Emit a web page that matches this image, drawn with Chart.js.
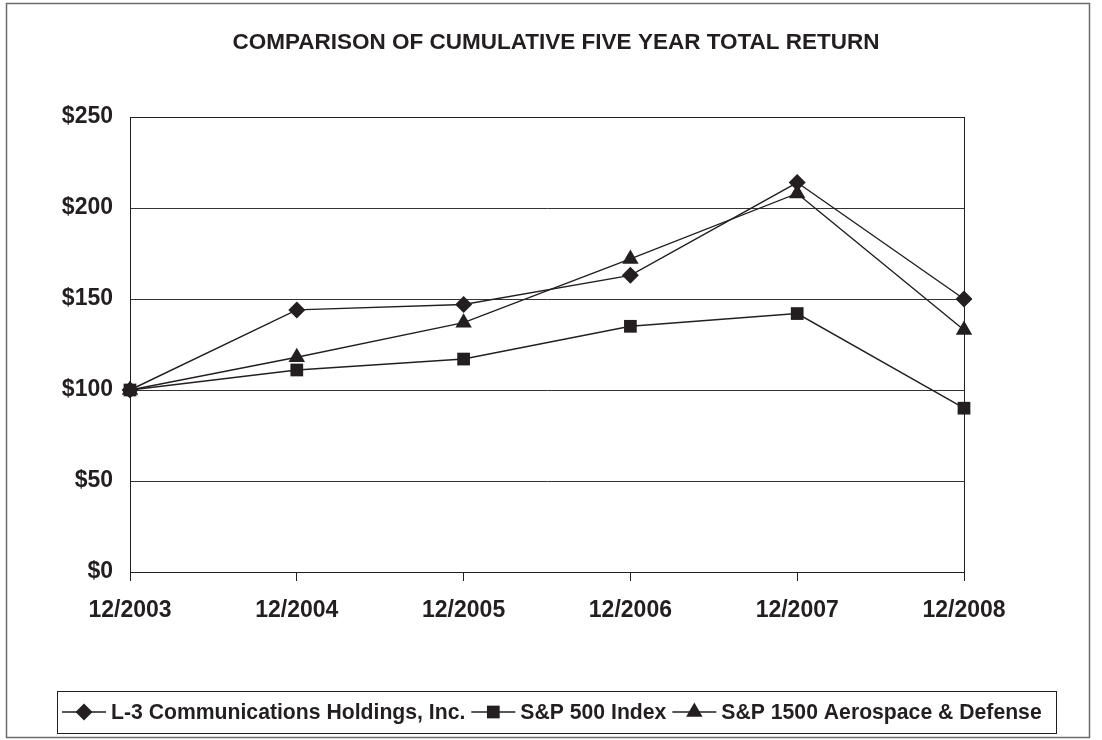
<!DOCTYPE html>
<html>
<head>
<meta charset="utf-8">
<script src="https://cdn.jsdelivr.net/npm/chart.js@4.4.1/dist/chart.umd.min.js"></script>
<style>
  body { margin: 0; background: #fff; }
  #wrap { width: 1102px; height: 740px; }
</style>
</head>
<body>
<div id="wrap"><canvas id="returnChart" width="1102" height="740"></canvas></div>
<script>
const years = ['12/2003', '12/2004', '12/2005', '12/2006', '12/2007', '12/2008'];
const l3Values = [100, 144, 147, 163, 214, 150];
const sp500Values = [100, 111, 117, 135, 142, 90];
const aeroValues = [100, 118, 137, 172, 208, 133];
const seriesNames = ['L-3 Communications Holdings, Inc.', 'S&P 500 Index', 'S&P 1500 Aerospace & Defense'];
const yTicks = [0, 50, 100, 150, 200, 250];
const chartTitle = 'COMPARISON OF CUMULATIVE FIVE YEAR TOTAL RETURN';

const ink = '#231f20';
const fontFam = '"Liberation Sans", Arial, sans-serif';

// outer frame, title, plot box and the line+marker legend
const framePlugin = {
    id: 'frame',
    beforeDatasetsDraw(chart) {
        const { ctx, chartArea: a } = chart;
        ctx.save();
        ctx.strokeStyle = ink;
        ctx.lineWidth = 1;
        ctx.strokeRect(a.left + 0.5, a.top + 0.5, a.right - a.left, a.bottom - a.top);
        ctx.restore();
    },
    afterDraw(chart) {
        const ctx = chart.ctx;
        ctx.save();
        ctx.strokeStyle = '#6b6b6b';
        ctx.lineWidth = 1.5;
        ctx.strokeRect(6.5, 3.5, 1083, 734);

        ctx.fillStyle = ink;
        ctx.font = 'bold 22.5px ' + fontFam;
        ctx.textAlign = 'center';
        ctx.textBaseline = 'middle';
        ctx.fillText(chartTitle, 556, 43);

        ctx.strokeStyle = ink;
        ctx.lineWidth = 1;
        ctx.strokeRect(57.5, 691.5, 999, 42);

        ctx.font = 'bold 21.2px ' + fontFam;
        ctx.textAlign = 'left';
        let x = 62;
        const y = 712;
        chart.data.datasets.forEach(ds => {
            ctx.strokeStyle = ink;
            ctx.lineWidth = 1.5;
            ctx.beginPath();
            ctx.moveTo(x, y);
            ctx.lineTo(x + 44, y);
            ctx.stroke();
            ctx.fillStyle = ink;
            Chart.helpers.drawPoint(ctx, {
                pointStyle: ds.pointStyle, radius: ds.pointRadius, rotation: 0, borderWidth: 0
            }, x + 22, y);
            ctx.fillStyle = ink;
            ctx.fillText(ds.label, x + 49, y + 1);
            x += 49 + ctx.measureText(ds.label).width + 6;
        });
        ctx.restore();
    }
};

const baseSet = {
    borderColor: ink,
    backgroundColor: ink,
    pointBackgroundColor: ink,
    pointBorderColor: ink,
    pointBorderWidth: 0,
    borderWidth: 1.4,
    tension: 0
};

new Chart(document.getElementById('returnChart'), {
    type: 'line',
    data: {
        labels: years,
        datasets: [
            { ...baseSet, label: seriesNames[0], data: l3Values, pointStyle: 'rectRot', pointRadius: 8.5 },
            { ...baseSet, label: seriesNames[1], data: sp500Values, pointStyle: 'rect', pointRadius: 9 },
            { ...baseSet, label: seriesNames[2], data: aeroValues, pointStyle: 'triangle', pointRadius: 9.5 }
        ]
    },
    options: {
        responsive: false,
        animation: false,
        layout: { padding: { left: 0, right: 138, top: 117, bottom: 118 } },
        plugins: {
            legend: { display: false },
            tooltip: { enabled: false },
            title: { display: false }
        },
        scales: {
            x: {
                offset: false,
                grid: { drawOnChartArea: false, drawTicks: true, tickLength: 9, color: ink },
                border: { display: true, color: ink, width: 1 },
                ticks: { color: ink, padding: 16, maxRotation: 0, font: { family: fontFam, size: 23, weight: 'bold' } },
                afterFit(scale) { scale.height = 50; }
            },
            y: {
                min: 0,
                max: 250,
                afterBuildTicks(scale) { scale.ticks = yTicks.map(v => ({ value: v })); },
                grid: { drawTicks: false, color: '#333', lineWidth: 1 },
                border: { display: true, color: ink, width: 1 },
                ticks: {
                    color: ink,
                    padding: 17,
                    font: { family: fontFam, size: 23, weight: 'bold' },
                    callback: v => '$' + v
                },
                afterFit(scale) { scale.width = 130; }
            }
        }
    },
    plugins: [framePlugin]
});
</script>
</body>
</html>
